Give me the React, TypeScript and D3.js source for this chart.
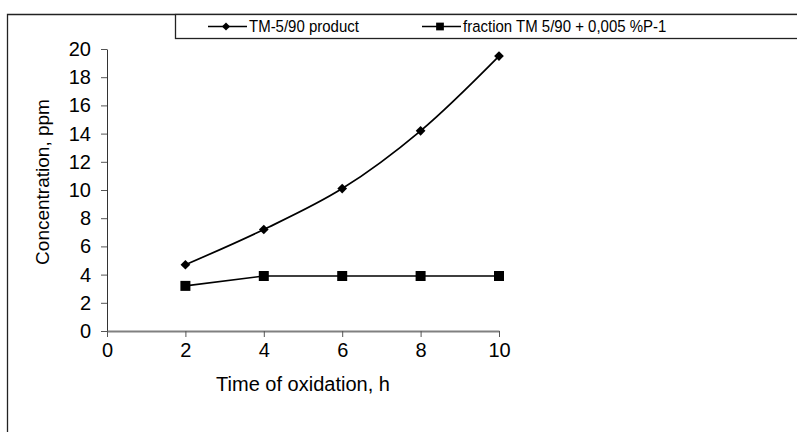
import * as d3 from 'd3';
import { useEffect, useRef } from 'react';

const hours = [2, 4, 6, 8, 10];
const productValues = [4.7, 7.2, 10.1, 14.2, 19.5];
const fractionValues = [3.2, 3.9, 3.9, 3.9, 3.9];
const xTicks = [0, 2, 4, 6, 8, 10];
const yTicks = [0, 2, 4, 6, 8, 10, 12, 14, 16, 18, 20];
const seriesLabels = ['TM-5/90 product', 'fraction TM 5/90 + 0,005 %P-1'];

const width = 797;
const height = 432;
const font = 'Liberation Sans, Arial, sans-serif';

function App() {
  const svgRef = useRef<SVGSVGElement | null>(null);

  useEffect(() => {
    if (!svgRef.current) {
      return;
    }
    const svg = d3.select(svgRef.current);
    svg.selectAll('*').remove();

    const plot = { left: 107, right: 499, top: 49, bottom: 331 };
    const x = d3.scaleLinear().domain([0, 10]).range([plot.left, plot.right]);
    const y = d3.scaleLinear().domain([0, 20]).range([plot.bottom, plot.top]);

    svg.append('rect').attr('width', width).attr('height', height).attr('fill', '#fff');

    // outer frame, only its left and top edges are in view
    svg
      .append('path')
      .attr('d', `M7.5,${height + 2}V14.5H${width + 2}`)
      .attr('fill', 'none')
      .attr('stroke', '#222')
      .attr('stroke-width', 1.3);

    const yAxis = svg
      .append('g')
      .attr('transform', `translate(${plot.left},0)`)
      .call(d3.axisLeft(y).tickValues(yTicks).tickSize(6).tickSizeOuter(0).tickPadding(10));
    yAxis.select('.domain').attr('stroke', '#333');
    yAxis.selectAll('line').attr('stroke', '#555');
    yAxis.selectAll('text').attr('fill', '#000').attr('font-size', 20).attr('font-family', font);

    const xAxis = svg
      .append('g')
      .attr('transform', `translate(0,${plot.bottom})`)
      .call(d3.axisBottom(x).tickValues(xTicks).tickSize(6).tickSizeOuter(0).tickPadding(6));
    xAxis.select('.domain').attr('stroke', '#808080').attr('stroke-width', 2);
    xAxis.selectAll('line').attr('stroke', '#555');
    xAxis.selectAll('text').attr('fill', '#000').attr('font-size', 20).attr('font-family', font);

    svg
      .append('text')
      .attr('transform', `translate(49,182) rotate(-90)`)
      .attr('text-anchor', 'middle')
      .attr('font-size', 19)
      .attr('font-family', font)
      .text('Concentration, ppm');

    svg
      .append('text')
      .attr('x', (plot.left + plot.right) / 2)
      .attr('y', 391)
      .attr('text-anchor', 'middle')
      .attr('font-size', 20)
      .attr('font-family', font)
      .text('Time of oxidation, h');

    const smooth = d3
      .line<number>()
      .x((_, i) => x(hours[i]))
      .y((d) => y(d))
      .curve(d3.curveCatmullRom.alpha(0.5));
    const straight = d3
      .line<number>()
      .x((_, i) => x(hours[i]))
      .y((d) => y(d));

    svg
      .append('path')
      .attr('d', smooth(productValues))
      .attr('fill', 'none')
      .attr('stroke', '#000')
      .attr('stroke-width', 1.7);

    svg
      .append('path')
      .attr('d', straight(fractionValues))
      .attr('fill', 'none')
      .attr('stroke', '#000')
      .attr('stroke-width', 1.7);

    const diamond = d3.symbol().type(d3.symbolDiamond2).size(60);
    const square = d3.symbol().type(d3.symbolSquare).size(100);

    svg
      .append('g')
      .selectAll('path')
      .data(productValues)
      .join('path')
      .attr('transform', (d, i) => `translate(${x(hours[i])},${y(d)})`)
      .attr('d', diamond())
      .attr('fill', '#000');

    svg
      .append('g')
      .selectAll('path')
      .data(fractionValues)
      .join('path')
      .attr('transform', (d, i) => `translate(${x(hours[i])},${y(d)})`)
      .attr('d', square())
      .attr('fill', '#000');

    // legend box runs off the right edge
    const legend = svg.append('g');
    legend
      .append('rect')
      .attr('x', 175.5)
      .attr('y', 14.5)
      .attr('width', width)
      .attr('height', 24)
      .attr('fill', '#fff')
      .attr('stroke', '#222')
      .attr('stroke-width', 1.3);

    const legendItems = [
      { label: seriesLabels[0], x0: 208, marker: d3.symbol().type(d3.symbolDiamond2).size(42) },
      { label: seriesLabels[1], x0: 422, marker: d3.symbol().type(d3.symbolSquare).size(60) },
    ];
    legendItems.forEach((item) => {
      const g = legend.append('g').attr('transform', `translate(${item.x0},26.5)`);
      g.append('line').attr('x1', 0).attr('x2', 39).attr('stroke', '#000').attr('stroke-width', 1.6);
      g.append('path').attr('transform', 'translate(18,0)').attr('d', item.marker()).attr('fill', '#000');
      g.append('text')
        .attr('transform', 'translate(41,0) scale(1,1.12)')
        .attr('dy', '0.35em')
        .attr('font-size', 15)
        .attr('font-family', font)
        .text(item.label);
    });
  }, []);

  return (
    <svg
      ref={svgRef}
      width={width}
      height={height}
      style={{ position: 'fixed', left: 0, top: 0, display: 'block' }}
    />
  );
}

export default App;
